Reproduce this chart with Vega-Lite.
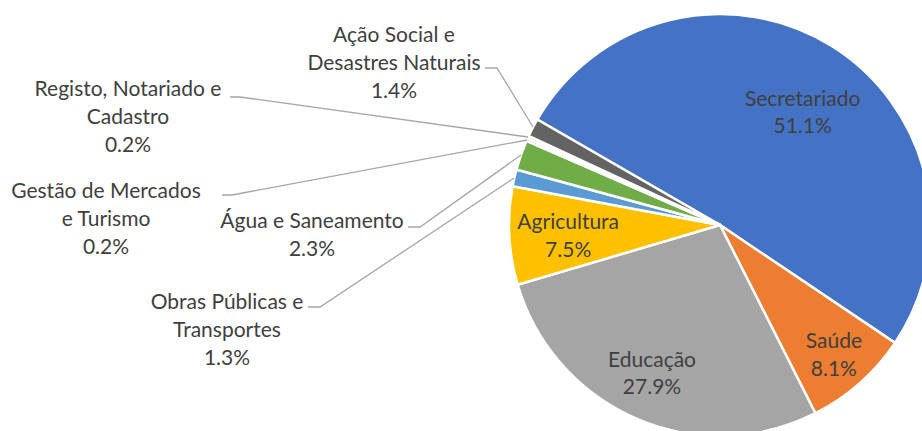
{
  "$schema": "https://vega.github.io/schema/vega-lite/v6.json",
  "width": 404,
  "height": 412,
  "autosize": "none",
  "padding": {"left": 518, "top": 19, "right": 0, "bottom": 0},
  "background": "white",
  "config": {"view": {"stroke": null}, "text": {"font": "Lato", "fontSize": 21, "color": "#404040", "lineHeight": 27.8}},
  "datasets": {
    "slices": [
      {"category": "Secretariado", "value": 51.1, "rank": 1, "label": "Secretariado\n51.1%"},
      {"category": "Saúde", "value": 8.1, "rank": 2, "label": "Saúde\n8.1%"},
      {"category": "Educação", "value": 27.9, "rank": 3, "label": "Educação\n27.9%"},
      {"category": "Agricultura", "value": 7.5, "rank": 4, "label": "Agricultura\n7.5%"},
      {"category": "Obras Públicas e Transportes", "value": 1.3, "rank": 5, "label": ""},
      {"category": "Água e Saneamento", "value": 2.3, "rank": 6, "label": ""},
      {"category": "Gestão de Mercados e Turismo", "value": 0.2, "rank": 7, "label": ""},
      {"category": "Registo, Notariado e Cadastro", "value": 0.2, "rank": 8, "label": ""},
      {"category": "Ação Social e Desastres Naturais", "value": 1.4, "rank": 9, "label": ""}
    ],
    "callouts": [
      {"category": "Ação Social e Desastres Naturais", "label": "Ação Social e\nDesastres Naturais\n1.4%", "lx": 394, "ly": 36},
      {"category": "Registo, Notariado e Cadastro", "label": "Registo, Notariado e\nCadastro\n0.2%", "lx": 128, "ly": 90},
      {"category": "Gestão de Mercados e Turismo", "label": "Gestão de Mercados\ne Turismo\n0.2%", "lx": 106, "ly": 192},
      {"category": "Água e Saneamento", "label": "Água e Saneamento\n2.3%", "lx": 312, "ly": 222},
      {"category": "Obras Públicas e Transportes", "label": "Obras Públicas e\nTransportes\n1.3%", "lx": 227, "ly": 303}
    ],
    "leaders": [
      {"category": "Ação Social e Desastres Naturais", "seq": 1, "px": 485, "py": 68},
      {"category": "Ação Social e Desastres Naturais", "seq": 2, "px": 497, "py": 68},
      {"category": "Ação Social e Desastres Naturais", "seq": 3, "px": 533, "py": 127},
      {"category": "Registo, Notariado e Cadastro", "seq": 1, "px": 230, "py": 97},
      {"category": "Registo, Notariado e Cadastro", "seq": 2, "px": 240, "py": 97},
      {"category": "Registo, Notariado e Cadastro", "seq": 3, "px": 528, "py": 137},
      {"category": "Gestão de Mercados e Turismo", "seq": 1, "px": 222, "py": 195},
      {"category": "Gestão de Mercados e Turismo", "seq": 2, "px": 232, "py": 195},
      {"category": "Gestão de Mercados e Turismo", "seq": 3, "px": 527, "py": 140},
      {"category": "Água e Saneamento", "seq": 1, "px": 408, "py": 227},
      {"category": "Água e Saneamento", "seq": 2, "px": 420, "py": 227},
      {"category": "Água e Saneamento", "seq": 3, "px": 521, "py": 155},
      {"category": "Obras Públicas e Transportes", "seq": 1, "px": 308, "py": 307},
      {"category": "Obras Públicas e Transportes", "seq": 2, "px": 320, "py": 307},
      {"category": "Obras Públicas e Transportes", "seq": 3, "px": 514, "py": 178}
    ]
  },
  "layer": [
    {
      "data": {"name": "slices"},
      "encoding": {
        "theta": {"field": "value", "type": "quantitative", "stack": true, "scale": {"range": [-1.0472, 5.2360]}},
        "order": {"field": "rank", "type": "quantitative"}
      },
      "layer": [
        {
          "mark": {"type": "arc", "outerRadius": 211, "stroke": "white", "strokeWidth": 2.5},
          "encoding": {
            "color": {
              "field": "category", "type": "nominal", "legend": null,
              "scale": {
                "domain": ["Secretariado", "Saúde", "Educação", "Agricultura", "Obras Públicas e Transportes", "Água e Saneamento", "Gestão de Mercados e Turismo", "Registo, Notariado e Cadastro", "Ação Social e Desastres Naturais"],
                "range": ["#4472C4", "#ED7D31", "#A5A5A5", "#FFC000", "#5B9BD5", "#70AD47", "#264478", "#9E480E", "#636363"]
              }
            }
          }
        },
        {
          "mark": {"type": "text", "radius": 139, "dx": 9, "dy": -7.5, "baseline": "middle", "align": "center", "lineBreak": "\n"},
          "encoding": {
            "detail": {"field": "category"},
            "text": {"condition": {"test": "datum.category === 'Secretariado'", "field": "label"}, "value": ""}
          }
        },
        {
          "mark": {"type": "text", "radius": 172, "dy": -12, "baseline": "middle", "align": "center", "lineBreak": "\n"},
          "encoding": {
            "detail": {"field": "category"},
            "text": {"condition": {"test": "datum.category === 'Saúde'", "field": "label"}, "value": ""}
          }
        },
        {
          "mark": {"type": "text", "radius": 164, "dx": -3, "dy": -15, "baseline": "middle", "align": "center", "lineBreak": "\n"},
          "encoding": {
            "detail": {"field": "category"},
            "text": {"condition": {"test": "datum.category === 'Educação'", "field": "label"}, "value": ""}
          }
        },
        {
          "mark": {"type": "text", "radius": 152, "dy": -10, "baseline": "middle", "align": "center", "lineBreak": "\n"},
          "encoding": {
            "detail": {"field": "category"},
            "text": {"condition": {"test": "datum.category === 'Agricultura'", "field": "label"}, "value": ""}
          }
        }
      ]
    },
    {
      "data": {"name": "leaders"},
      "mark": {"type": "line", "color": "#A6A6A6", "strokeWidth": 1.3},
      "encoding": {
        "x": {"field": "px", "type": "quantitative", "axis": null, "scale": {"domain": [518, 922], "zero": false, "nice": false}},
        "y": {"field": "py", "type": "quantitative", "axis": null, "scale": {"domain": [19, 431], "zero": false, "nice": false, "reverse": true}},
        "detail": {"field": "category"},
        "order": {"field": "seq", "type": "quantitative"}
      }
    },
    {
      "data": {"name": "callouts"},
      "mark": {"type": "text", "baseline": "middle", "align": "center", "lineBreak": "\n"},
      "encoding": {
        "x": {"field": "lx", "type": "quantitative"},
        "y": {"field": "ly", "type": "quantitative"},
        "text": {"field": "label"}
      }
    }
  ]
}
